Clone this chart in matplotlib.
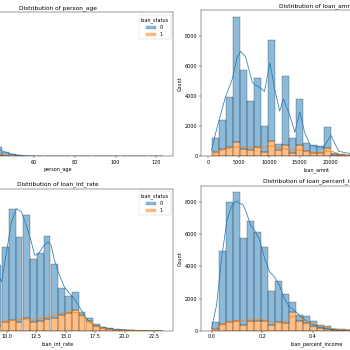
import numpy as np
import matplotlib
matplotlib.use("Agg")
import matplotlib.pyplot as plt
from matplotlib.patches import Patch

# ---------------- data ----------------
N_BINS = 30
status_levels = ["0", "1"]

# person_age
age_range = (20, 123)
age_total = [11000, 19000, 12500, 7000, 4200, 2400, 1300, 650, 320, 170,
             90, 45, 25, 12, 6, 3, 2, 1, 1, 0, 1, 0, 0, 0, 0, 0, 0, 0, 0, 1]
age_s1 = [1900, 2600, 1700, 950, 600, 350, 220, 130, 60, 30,
          15, 8, 4, 2, 1, 0, 0, 0, 0, 0, 0, 0, 0, 0, 0, 0, 0, 0, 0, 0]
age_kde_x = [20, 21, 22, 23, 24, 25, 26, 27, 28, 30, 32, 34, 36, 38, 40, 42, 44,
             46, 48, 50, 52, 55, 58, 62, 66, 70, 75, 80, 90, 100, 110, 123]
age_kde_top = [9500, 13000, 16000, 17800, 18300, 17600, 16000, 14000, 12000, 9000,
               6800, 5000, 3600, 2600, 1800, 1200, 850, 600, 420, 280, 190, 100,
               55, 28, 14, 7, 4, 3, 2, 1, 1, 1]
age_kde_s1 = [1500, 1800, 2200, 2400, 2500, 2400, 2200, 2000, 1700, 1300, 950, 700,
              550, 450, 380, 330, 300, 220, 150, 100, 60, 30, 15, 7, 4, 2, 1, 1,
              0, 0, 0, 0]

# loan_amnt
amnt_range = (500, 35000)
amnt_total = [1200, 2400, 3950, 9200, 5750, 3700, 5200, 2000, 7700, 800,
              5300, 1200, 3800, 900, 750, 700, 1950, 250, 150, 100,
              150, 700, 80, 60, 50, 250, 30, 20, 20, 150]
amnt_s1 = [300, 500, 600, 950, 500, 400, 650, 300, 1000, 450,
           750, 250, 750, 350, 250, 250, 550, 100, 80, 60,
           60, 200, 30, 20, 20, 70, 10, 8, 8, 40]
amnt_kde_x = [500, 1400, 2800, 3900, 4700, 5280, 6100, 7200, 7800, 8300, 9200,
              10100, 10800, 11700, 12300, 13300, 14200, 15000, 15800, 16700, 17800,
              18900, 20100, 21400, 22500, 23300, 24000, 25000, 26000, 28000, 30000,
              32000, 35000]
amnt_kde_top = [400, 1900, 3950, 5100, 6550, 6950, 6600, 4900, 4700, 4600, 4300,
                6200, 4600, 3000, 3800, 2800, 1600, 2950, 1600, 750, 650,
                600, 1400, 350, 250, 200, 300, 700, 300, 120, 180, 60, 100]
amnt_kde_s1_x = [500, 1500, 2500, 3500, 4500, 5500, 6500, 7500, 8500, 9500, 10500,
                 11500, 12500, 13500, 14500, 15500, 16500, 17500, 18500, 19500,
                 20500, 21500, 22500, 25000, 28000, 30000, 35000]
amnt_kde_s1 = [100, 300, 450, 550, 620, 640, 600, 560, 580, 650, 700, 580, 500,
               420, 420, 420, 280, 230, 250, 380, 320, 130, 80, 200, 50, 60, 30]

# loan_int_rate
rate_range = (5.42, 23.22)
rate_total = [900, 2200, 4800, 6000, 6800, 2400, 3300,
              4217, 6133, 4717, 5833, 3583, 3933, 4750, 3333, 2167, 1750, 1933,
              967, 633, 333, 217, 133, 83, 50, 30, 20, 10, 5, 3]
rate_s1 = [60, 150, 250, 300, 350, 150, 250,
           467, 550, 467, 667, 467, 500, 583, 667, 800, 917, 1050,
           800, 500, 250, 150, 90, 55, 30, 18, 12, 6, 3, 2]
rate_kde_x = [5.42, 6.0, 6.5, 7.0, 7.5, 8.0, 8.5, 9.0, 9.3, 9.58, 10.0, 10.42,
              10.84, 11.26, 11.68, 12.1, 12.38, 12.66, 13.08, 13.5, 13.78, 14.06,
              14.48, 14.9, 15.32, 15.74, 16.16, 16.58, 17.0, 17.56, 18.26, 19.1,
              20.2, 21.3, 22.7, 23.22]
rate_kde_top = [1000, 1800, 3200, 4800, 5800, 5600, 4200, 3200, 2800, 2467, 3967,
                5467, 6133, 5967, 5300, 4467, 3800, 3833, 4217, 4467, 4300, 3550,
                2800, 2217, 1883, 1633, 1217, 800, 467, 267, 167, 83, 50, 30, 10, 5]
rate_kde_s1_x = [5.42, 6.5, 7.5, 8.5, 9.5, 10.0, 10.5, 11.0, 11.5, 12.0, 12.5, 13.0,
                 13.5, 14.0, 14.5, 15.0, 15.5, 16.0, 16.5, 17.0, 17.5, 18.0, 18.5,
                 19.0, 20.0, 21.0, 22.0, 23.22]
rate_kde_s1 = [60, 200, 320, 320, 450, 500, 520, 560, 580, 540, 560, 620, 700, 780,
               860, 930, 970, 900, 700, 450, 270, 170, 100, 60, 30, 15, 8, 3]

# loan_percent_income
pct_range = (0.0, 0.83)
pct_total = [577, 4954, 8009, 8586, 5738, 6832, 6109, 5222, 2498, 3096,
             2291, 1800, 1000, 900, 600, 400, 300, 150, 100, 80,
             60, 40, 25, 15, 10, 6, 4, 2, 1, 1]
pct_s1 = [150, 450, 550, 650, 400, 650, 650, 650, 350, 550,
          500, 1200, 600, 500, 300, 200, 150, 80, 50, 40,
          30, 20, 12, 8, 5, 3, 2, 1, 1, 0]
pct_kde_x = [0.0, 0.02, 0.04, 0.06, 0.078, 0.098, 0.111, 0.124, 0.137, 0.154, 0.17,
             0.19, 0.21, 0.229, 0.248, 0.268, 0.288, 0.307, 0.327, 0.353, 0.379,
             0.418, 0.457, 0.5, 0.55, 0.6, 0.7, 0.83]
pct_kde_top = [150, 1600, 4500, 6770, 7700, 8050, 7900, 7840, 7390, 6560, 6250,
               5640, 4500, 3675, 3370, 2850, 2030, 1510, 1300, 890, 580, 270, 125,
               60, 40, 25, 10, 3]
pct_kde_s1_x = [0.0, 0.03, 0.06, 0.1, 0.15, 0.2, 0.25, 0.28, 0.32, 0.34, 0.37, 0.4,
                0.45, 0.5, 0.55, 0.6, 0.7, 0.83]
pct_kde_s1 = [50, 300, 550, 650, 680, 700, 520, 500, 900, 950, 650, 450, 250, 100,
              50, 15, 5, 2]

# ---------------- styling ----------------
BLUE = "#1f77b4"
ORANGE = "#ff7f0e"
DPI = 35
W = H = 350

fig = plt.figure(figsize=(W / DPI, H / DPI), dpi=DPI)


def px_axes(left, top, w, h):
    return fig.add_axes([left / W, 1 - (top + h) / H, w / W, h / H])


def panel(ax, name, rng, total, s1, kx, ktop, k1x, k1):
    edges = np.linspace(rng[0], rng[1], N_BINS + 1)
    width = np.diff(edges)
    total = np.asarray(total, float)
    s1 = np.asarray(s1, float)
    s0 = total - s1
    ax.bar(edges[:-1], s1, width=width, align="edge", color=ORANGE, alpha=0.5,
           edgecolor="black", linewidth=1.0)
    ax.bar(edges[:-1], s0, width=width, bottom=s1, align="edge", color=BLUE,
           alpha=0.5, edgecolor="black", linewidth=1.0)
    ax.plot(kx, ktop, color=BLUE, lw=1.5)
    ax.plot(k1x, k1, color=ORANGE, lw=1.5)
    ax.set_title(f"Distribution of {name}")
    ax.set_xlabel(name)
    ax.set_ylabel("Count")
    handles = [Patch(facecolor=BLUE, alpha=0.5, edgecolor=BLUE, linewidth=1),
               Patch(facecolor=ORANGE, alpha=0.5, edgecolor=ORANGE, linewidth=1)]
    ax.legend(handles, status_levels, title="loan_status", loc="upper right")


ax1 = px_axes(-58, 12.5, 231, 144)
ax2 = px_axes(201, 10.5, 231, 146)
ax3 = px_axes(-58, 188.5, 231, 142.5)
ax4 = px_axes(201, 185.5, 231, 145.5)

panel(ax1, "person_age", age_range, age_total, age_s1, age_kde_x, age_kde_top,
      age_kde_x, age_kde_s1)
panel(ax2, "loan_amnt", amnt_range, amnt_total, amnt_s1, amnt_kde_x, amnt_kde_top,
      amnt_kde_s1_x, amnt_kde_s1)
panel(ax3, "loan_int_rate", rate_range, rate_total, rate_s1, rate_kde_x,
      rate_kde_top, rate_kde_s1_x, rate_kde_s1)
panel(ax4, "loan_percent_income", pct_range, pct_total, pct_s1, pct_kde_x,
      pct_kde_top, pct_kde_s1_x, pct_kde_s1)

fig.savefig("out.png", dpi=DPI)
